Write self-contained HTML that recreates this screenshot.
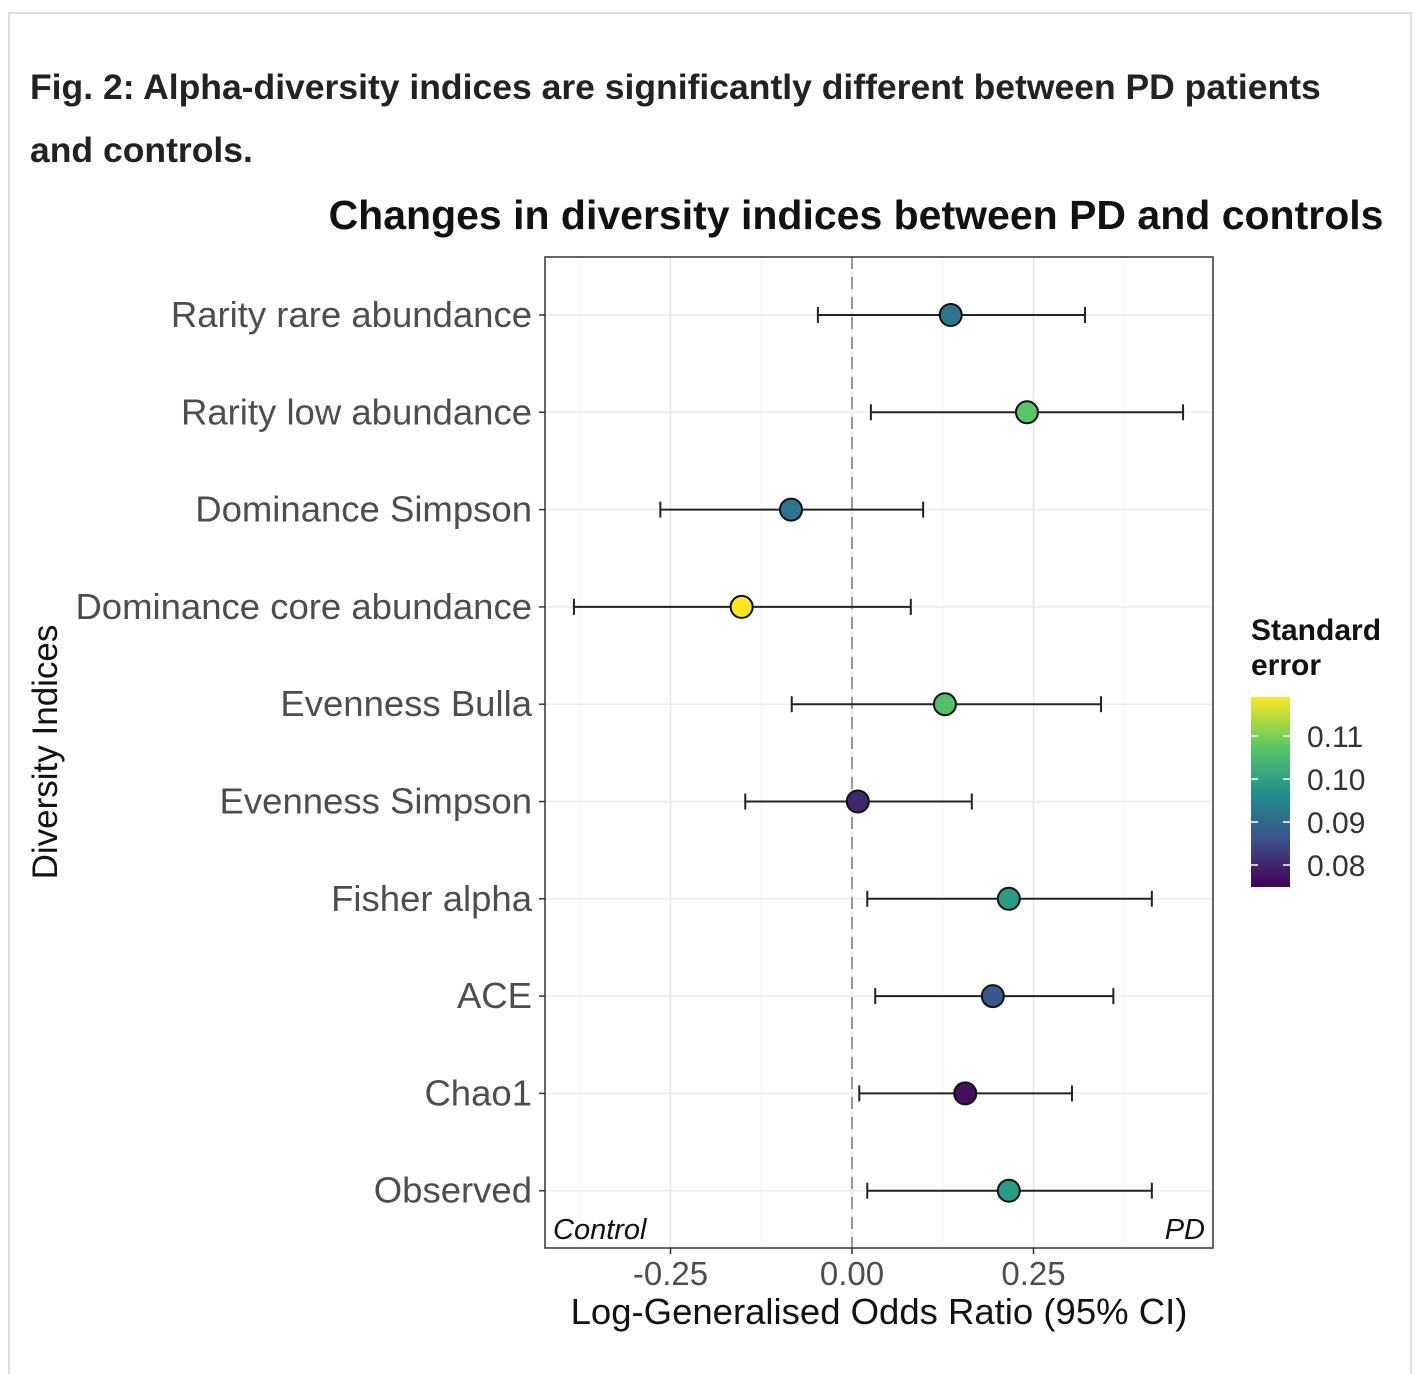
<!DOCTYPE html>
<html><head><meta charset="utf-8"><style>
body{margin:0;background:#fff;width:1418px;height:1364px;overflow:hidden;font-family:"Liberation Sans",sans-serif}
.frame{position:absolute;left:8px;top:12px;width:1400px;height:1360px;border:2px solid #ddd;border-bottom:none}
h1{position:absolute;left:30px;top:56px;margin:0;font-size:35.5px;font-weight:bold;line-height:63px;color:#222;width:1340px}
</style></head><body>
<div class="frame"></div>
<h1>Fig. 2: Alpha-diversity indices are significantly different between PD patients and controls.</h1>
<svg id="chart" width="1418" height="1364" style="position:absolute;left:0;top:0">
<defs><linearGradient id="vir" x1="0" y1="1" x2="0" y2="0">
<stop offset="0" stop-color="#440154"/><stop offset="0.25" stop-color="#3b528b"/><stop offset="0.5" stop-color="#21918c"/><stop offset="0.75" stop-color="#5ec962"/><stop offset="1" stop-color="#fde725"/></linearGradient></defs>
</svg>
<script>
const categories=["Rarity rare abundance","Rarity low abundance","Dominance Simpson","Dominance core abundance","Evenness Bulla","Evenness Simpson","Fisher alpha","ACE","Chao1","Observed"];
const estimates=[0.136,0.241,-0.084,-0.152,0.128,0.008,0.216,0.194,0.156,0.216];
const lower=[-0.047,0.026,-0.264,-0.383,-0.083,-0.147,0.021,0.032,0.010,0.021];
const upper=[0.321,0.456,0.098,0.081,0.343,0.165,0.413,0.360,0.303,0.413];
const stderr=[0.092,0.107,0.092,0.119,0.106,0.080,0.099,0.087,0.077,0.099];
const xTicks=[-0.25,0,0.25];
const xTickLabels=["-0.25","0.00","0.25"];
const xMinor=[-0.375,-0.125,0.125,0.375];
const cbTicks=[0.08,0.09,0.10,0.11];

const svg=document.getElementById('chart');const NS="http://www.w3.org/2000/svg";
function el(t,a,p){const e=document.createElementNS(NS,t);for(const k in a)e.setAttribute(k,a[k]);(p||svg).appendChild(e);return e;}
const PL=545,PR=1213,PT=257,PB=1248;
const xs=v=>852+v*726;
const ys=i=>315+i*97.3;
const cbY=v=>865-(v-0.08)*4300;
const stops=["#440154","#3b528b","#21918c","#5ec962","#fde725"];
function lerp(a,b,t){const pa=[1,3,5].map(i=>parseInt(a.substr(i,2),16)),pb=[1,3,5].map(i=>parseInt(b.substr(i,2),16));return "rgb("+pa.map((x,i)=>Math.round(x+(pb[i]-x)*t)).join(",")+")";}
function col(v){let t=(v-0.075)/(0.119-0.075);t=Math.max(0,Math.min(1,t))*4;const i=Math.min(3,Math.floor(t));return lerp(stops[i],stops[i+1],t-i);}

let t=el('text',{x:856,y:229,'text-anchor':'middle','font-size':41,'font-weight':'bold',fill:'#111'});t.textContent="Changes in diversity indices between PD and controls";

xMinor.forEach(v=>{const l=el('line',{x1:xs(v),x2:xs(v),y1:PT,y2:PB,stroke:'#f2f2f2','stroke-width':1});});
xTicks.forEach(v=>{const l=el('line',{x1:xs(v),x2:xs(v),y1:PT,y2:PB,stroke:'#e6e6e6','stroke-width':1.5});});
categories.forEach((c,i)=>{const l=el('line',{x1:PL,x2:PR,y1:ys(i),y2:ys(i),stroke:'#ececec','stroke-width':1.5});});
let z=el('line',{x1:xs(0),x2:xs(0),y1:PT,y2:PB,stroke:'#999','stroke-width':2,'stroke-dasharray':'12,8'});
categories.forEach((c,i)=>{const y=ys(i);
 const g=el('g',{});
 el('line',{x1:xs(lower[i]),x2:xs(upper[i]),y1:y,y2:y,stroke:'#222','stroke-width':2},g);
 el('line',{x1:xs(lower[i]),x2:xs(lower[i]),y1:y-8,y2:y+8,stroke:'#222','stroke-width':2},g);
 el('line',{x1:xs(upper[i]),x2:xs(upper[i]),y1:y-8,y2:y+8,stroke:'#222','stroke-width':2},g);
 el('circle',{cx:xs(estimates[i]),cy:y,r:11,fill:col(stderr[i]),stroke:'#111','stroke-width':2},g);
 el('line',{x1:PL-6,x2:PL,y1:y,y2:y,stroke:'#333','stroke-width':1.5});
 const tl=el('text',{x:532,y:y+12,'text-anchor':'end','font-size':36.5,fill:'#4d4d4d'});tl.textContent=c;
 
});
let b=el('rect',{x:PL,y:PT,width:PR-PL,height:PB-PT,fill:'none',stroke:'#333','stroke-width':1.5});
xTicks.forEach((v,i)=>{el('line',{x1:xs(v),x2:xs(v),y1:PB,y2:PB+6,stroke:'#333','stroke-width':1.5});
 const tl=el('text',{x:xs(v),y:1285,'text-anchor':'middle','font-size':33,fill:'#4d4d4d'});tl.textContent=xTickLabels[i];
 });
t=el('text',{x:553,y:1239,'font-size':29,'font-style':'italic',fill:'#111'});t.textContent="Control";
t=el('text',{x:1205,y:1239,'text-anchor':'end','font-size':29,'font-style':'italic',fill:'#111'});t.textContent="PD";
t=el('text',{x:879,y:1324,'text-anchor':'middle','font-size':36.5,fill:'#111'});t.textContent="Log-Generalised Odds Ratio (95% CI)";
t=el('text',{x:0,y:0,'text-anchor':'middle','font-size':35,fill:'#111',transform:'translate(57,752) rotate(-90)'});t.textContent="Diversity Indices";
t=el('text',{x:1251,y:640,'font-size':30,'font-weight':'bold',fill:'#111'});t.textContent="Standard";
t=el('text',{x:1251,y:675,'font-size':30,'font-weight':'bold',fill:'#111'});t.textContent="error";
let r=el('rect',{x:1251,y:697,width:39,height:190,fill:'url(#vir)'});
cbTicks.forEach(v=>{const y=cbY(v);el('line',{x1:1251,x2:1258,y1:y,y2:y,stroke:'#fff','stroke-width':1.5});el('line',{x1:1283,x2:1290,y1:y,y2:y,stroke:'#fff','stroke-width':1.5});
 const tl=el('text',{x:1307,y:y+11,'font-size':30,fill:'#333'});tl.textContent=v.toFixed(2);});
</script>
</body></html>
